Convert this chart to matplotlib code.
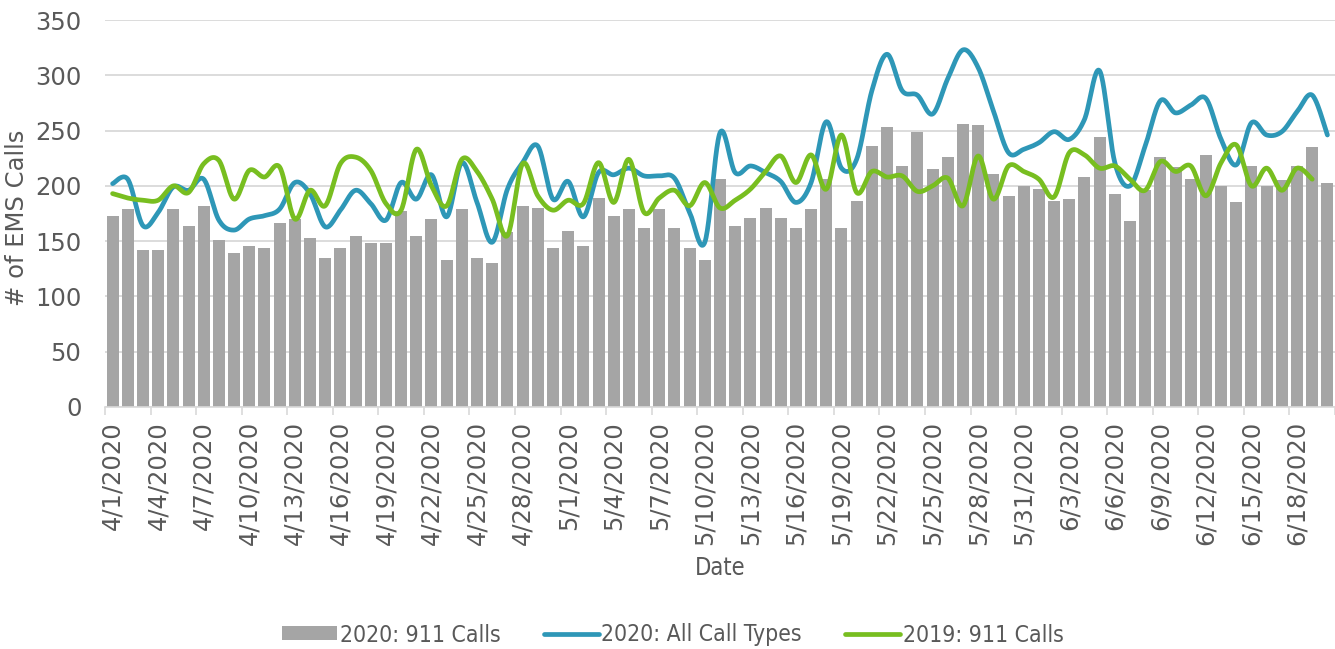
import numpy as np
import pandas as pd
import matplotlib
matplotlib.use("Agg")
import matplotlib.pyplot as plt

# daily counts, 4/1/2020 .. 6/20/2020
dates = pd.date_range("2020-04-01", periods=81)
labels = [f"{d.month}/{d.day}/{d.year}" for d in dates]

calls_911_2020 = [
    173, 179, 142, 142, 179, 164, 182, 151, 139, 146,
    144, 166, 170, 153, 135, 144, 155, 148, 148, 177,
    155, 170, 133, 179, 135, 130, 158, 182, 180, 144,
    159, 146, 189, 173, 179, 162, 179, 162, 144, 133,
    206, 164, 171, 180, 171, 162, 179, 206, 162, 186,
    236, 253, 218, 249, 215, 226, 256, 255, 211, 191,
    200, 197, 186, 188, 208, 244, 193, 168, 196, 226,
    217, 206, 228, 200, 185, 218, 200, 205, 218, 235,
    203,
]

all_types_2020 = [
    202, 206, 164, 176, 199, 196, 206, 169, 160, 170,
    173, 179, 203, 193, 163, 178, 196, 184, 169, 203,
    188, 210, 172, 221, 185, 149, 197, 221, 236, 188,
    204, 172, 212, 210, 216, 209, 209, 207, 176, 149,
    248, 212, 218, 212, 204, 185, 203, 258, 216, 224,
    286, 319, 286, 282, 265, 297, 323, 307, 268, 230,
    233, 239, 249, 242, 260, 304, 221, 200, 236, 277,
    266, 273, 279, 242, 219, 257, 246, 249, 267, 282,
    246,
]

calls_911_2019 = [
    193, 189, 187, 187, 200, 194, 220, 223, 188, 214,
    208, 217, 170, 196, 182, 220, 226, 214, 184, 178,
    233, 200, 182, 224, 213, 188, 155, 220, 191, 178,
    187, 184, 221, 185, 224, 176, 189, 196, 182, 203,
    180, 187, 197, 213, 227, 203, 228, 197, 246, 194,
    213, 208, 209, 195, 200, 207, 182, 227, 188, 218,
    213, 206, 190, 230, 228, 216, 218, 206, 196, 222,
    213, 218, 191, 221, 237, 200, 216, 196, 216, 206,
]


def smooth(y, n=24):
    """Excel-like smoothed line (Bezier through the points)"""
    x = np.arange(len(y), dtype=float)
    pts = np.column_stack([x, np.asarray(y, dtype=float)])
    p = np.vstack([pts[0], pts, pts[-1]])
    t = np.linspace(0, 1, n, endpoint=False)[:, None]
    out = []
    for k in range(1, len(p) - 2):
        p0, p1, p2, p3 = p[k - 1], p[k], p[k + 1], p[k + 2]
        c1 = p1 + (p2 - p0) / 6
        c2 = p2 - (p3 - p1) / 6
        out.append((1 - t) ** 3 * p1 + 3 * (1 - t) ** 2 * t * c1
                   + 3 * (1 - t) * t ** 2 * c2 + t ** 3 * p2)
    out.append(pts[-1:])
    seg = np.vstack(out)
    return seg[:, 0], seg[:, 1]


TXT = "#595959"
GRID = "#D9D9D9"

fig = plt.figure(figsize=(13.35, 6.49), dpi=100)
ax = fig.add_axes([105 / 1335, 1 - 407 / 649, 1230 / 1335, 387 / 649])

x = np.arange(len(calls_911_2020))
bars = ax.bar(x, calls_911_2020, width=0.79, color="#A5A5A5",
              label="2020: 911 Calls", zorder=2)

bx, by = smooth(all_types_2020)
l1, = ax.plot(bx, by, color="#2E97B7", lw=3.4, solid_capstyle="round",
              label="2020: All Call Types", zorder=3)
gx, gy = smooth(calls_911_2019)
l2, = ax.plot(gx, gy, color="#78BE20", lw=3.4, solid_capstyle="round",
              label="2019: 911 Calls", zorder=4)

ax.set_ylim(0, 350)
ax.set_xlim(-0.5, -0.5 + 1230 / 15.2)
ax.set_yticks(np.arange(0, 351, 50))
ax.yaxis.grid(True, color=GRID, lw=1.3)
ax.set_axisbelow(True)
for s in ["top", "right", "left"]:
    ax.spines[s].set_visible(False)
ax.spines["bottom"].set_color(GRID)
ax.spines["bottom"].set_linewidth(1.2)

ax.set_xticks(x[::3])
ax.set_xticklabels(labels[::3], rotation=90)
ax.set_xticks(np.arange(-0.5, len(x), 3), minor=True)
ax.tick_params(axis="x", which="major", length=0, pad=10, labelsize=17.5, labelcolor=TXT)
ax.tick_params(axis="x", which="minor", length=6, width=1.2, color=GRID)
ax.tick_params(axis="y", length=0, pad=17, labelsize=17.5, labelcolor=TXT)

ax.set_ylabel("# of EMS Calls", fontsize=17.5, color=TXT)
ax.yaxis.set_label_coords(-0.062, 0.49)
ax.set_xlabel("Date", fontsize=17, color=TXT, fontstretch="condensed")
ax.xaxis.set_label_coords(0.5, -0.385)

fig.legend(handles=[bars, l1, l2], loc="center",
           bbox_to_anchor=(673 / 1335, 1 - 635 / 649), ncol=3, frameon=False,
           prop={"size": 16.5, "stretch": "condensed"},
           labelcolor=TXT, handlelength=2.4, handleheight=0.55,
           handletextpad=0.1, columnspacing=1.9)

fig.savefig("out.png", dpi=100)
